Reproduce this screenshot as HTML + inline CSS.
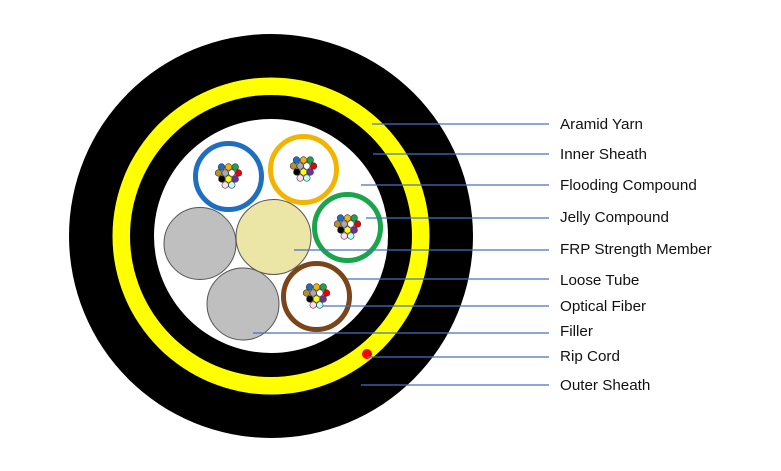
<!DOCTYPE html>
<html><head><meta charset="utf-8"><style>
html,body{margin:0;padding:0;background:#fff;width:781px;height:471px;overflow:hidden}
text{font-family:"Liberation Sans",sans-serif;font-size:15.2px;fill:#111}
</style></head><body>
<svg width="781" height="471" viewBox="0 0 781 471" xmlns="http://www.w3.org/2000/svg">
<defs>
<g id="fib" stroke="#333" stroke-width="0.6">
<circle cx="-7" cy="-9.5" r="3.3" fill="#1f6fc0"/>
<circle cx="0" cy="-9.5" r="3.3" fill="#f2b400"/>
<circle cx="6.7" cy="-9.5" r="3.3" fill="#1aa54a"/>
<circle cx="-10" cy="-3.5" r="3.3" fill="#b8902a"/>
<circle cx="-3.3" cy="-3.5" r="3.3" fill="#aaa"/>
<circle cx="3.3" cy="-3.5" r="3.3" fill="#fff"/>
<circle cx="10" cy="-3.5" r="3.3" fill="#e00"/>
<circle cx="-6.7" cy="2.5" r="3.3" fill="#000"/>
<circle cx="0" cy="2.5" r="3.3" fill="#ff0"/>
<circle cx="6.7" cy="2.5" r="3.3" fill="#7030a0"/>
<circle cx="-3.3" cy="8.5" r="3.3" fill="#fde"/>
<circle cx="3.3" cy="8.5" r="3.3" fill="#bff"/>
</g>
</defs>
<circle cx="271" cy="236" r="202" fill="#000"/>
<circle cx="271" cy="236" r="158.5" fill="#ff0"/>
<circle cx="271" cy="236" r="141" fill="#000"/>
<circle cx="271" cy="236" r="117" fill="#fff"/>
<g stroke="#555" stroke-width="1">
<circle cx="200" cy="243.5" r="36" fill="#bfbfbf"/>
<circle cx="243" cy="304" r="36" fill="#bfbfbf"/>
<circle cx="273.5" cy="237" r="37.5" fill="#ebe5a6"/>
</g>
<circle cx="228.5" cy="176.5" r="33" fill="#fff" stroke="#1f6fc0" stroke-width="5"/>
<circle cx="303.5" cy="169.5" r="33" fill="#fff" stroke="#f2b400" stroke-width="5"/>
<circle cx="347.5" cy="227.5" r="33" fill="#fff" stroke="#1aa54a" stroke-width="5"/>
<circle cx="316.5" cy="296.5" r="33" fill="#fff" stroke="#7a4518" stroke-width="5"/>
<use href="#fib" x="228.5" y="176.5"/>
<use href="#fib" x="303.5" y="169.5"/>
<use href="#fib" x="347.5" y="227.5"/>
<use href="#fib" x="316.5" y="296.5"/>
<circle cx="367" cy="354" r="5" fill="#f00"/>
<g stroke="#4472c4" stroke-width="1.3">
<line x1="372" y1="124" x2="549" y2="124"/>
<line x1="373" y1="154" x2="549" y2="154"/>
<line x1="361" y1="185" x2="549" y2="185"/>
<line x1="366" y1="218" x2="549" y2="218"/>
<line x1="294" y1="250" x2="549" y2="250"/>
<line x1="347" y1="279" x2="549" y2="279"/>
<line x1="323" y1="306" x2="549" y2="306"/>
<line x1="253" y1="333" x2="549" y2="333"/>
<line x1="367" y1="357" x2="549" y2="357"/>
<line x1="361" y1="385" x2="549" y2="385"/>
</g>
<g>
<text x="560" y="129">Aramid Yarn</text>
<text x="560" y="159">Inner Sheath</text>
<text x="560" y="190">Flooding Compound</text>
<text x="560" y="222">Jelly Compound</text>
<text x="560" y="254">FRP Strength Member</text>
<text x="560" y="285">Loose Tube</text>
<text x="560" y="311">Optical Fiber</text>
<text x="560" y="336">Filler</text>
<text x="560" y="361">Rip Cord</text>
<text x="560" y="390">Outer Sheath</text>
</g>
</svg>
</body></html>
